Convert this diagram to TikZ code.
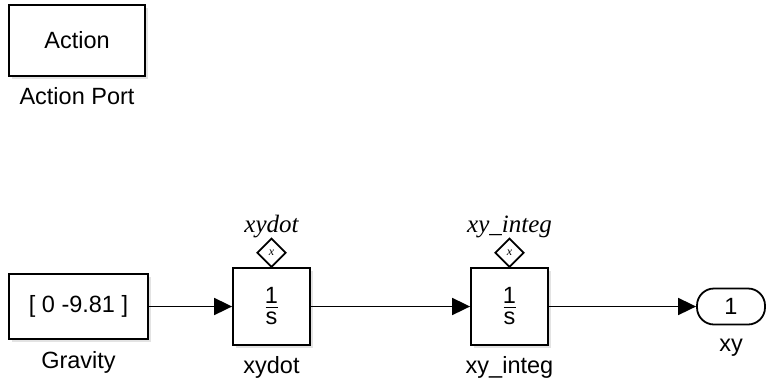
\documentclass[tikz,border=0pt]{standalone}
\usepackage{fontspec}
\setmainfont{Liberation Sans}
\newfontfamily\timesfont{Liberation Serif}
\usetikzlibrary{positioning, arrows.meta, shapes.geometric, shadows}

\begin{document}
\begin{tikzpicture}[
    x=1pt, y=-1pt,
    node distance=4pt,
    block/.style={rectangle, draw, line width=1.8pt, fill=white, align=center, font=\fontsize{23.5}{26}\selectfont,
      drop shadow={shadow xshift=2.5pt, shadow yshift=-2.5pt, fill=black!22}},
    intblock/.style={block, minimum width=77pt, minimum height=77pt, font=\fontsize{23.5}{21}\selectfont},
    outport/.style={rectangle, draw, line width=1.8pt, fill=white, rounded corners=17pt, minimum width=68pt, minimum height=36pt, font=\fontsize{23.5}{26}\selectfont},
    statebox/.style={diamond, draw, line width=1.8pt, fill=white, inner sep=0pt, minimum size=29pt, font=\timesfont\itshape\fontsize{12}{12}\selectfont},
    blockname/.style={font=\fontsize{23.5}{26}\selectfont},
    statename/.style={font=\timesfont\itshape\fontsize{25}{26}\selectfont},
    arrow/.style={-{Triangle[length=18pt, width=17pt]}, line width=1.8pt},
    fracbar/.style={line width=1.3pt},
]
\useasboundingbox (0,0) rectangle (766,381);

\node[block, minimum width=136pt, minimum height=71pt] (action) at (77,40.5) {Action};
\node[blockname, below=7pt of action] (actionname) {Action Port};

\node[block, minimum width=139pt, minimum height=65pt] (gravity) at (78.5,306.5) {[ 0 -9.81 ]};
\node[blockname, below=8pt of gravity] (gravityname) {Gravity};

% integrators with their state ports
\node[intblock] (xydot) at (271.5,306.5) {1\\s};
\draw[fracbar] ([xshift=-6pt, yshift=-1pt]xydot.center) -- ([xshift=6pt, yshift=-1pt]xydot.center);
\node[blockname, below=7pt of xydot] (xydotname) {xydot};
\node[statebox, above=-1pt of xydot] (xydotstate) {x};
\node[statename, above=-4pt of xydotstate] (xydotlabel) {xydot};

\node[intblock] (xyinteg) at (509.5,306.5) {1\\s};
\draw[fracbar] ([xshift=-6pt, yshift=-1pt]xyinteg.center) -- ([xshift=6pt, yshift=-1pt]xyinteg.center);
\node[blockname, below=7pt of xyinteg] (xyintegname) {xy\_integ};
\node[statebox, above=-1pt of xyinteg] (xyintegstate) {x};
\node[statename, above=-4pt of xyintegstate] (xyinteglabel) {xy\_integ};

\node[outport] (xy) at (731,306.5) {1};
\node[blockname, below=10pt of xy] (xyname) {xy};

\draw[arrow] (gravity) -- (xydot);
\draw[arrow] (xydot) -- (xyinteg);
\draw[arrow] (xyinteg) -- (xy);

\end{tikzpicture}
\end{document}
